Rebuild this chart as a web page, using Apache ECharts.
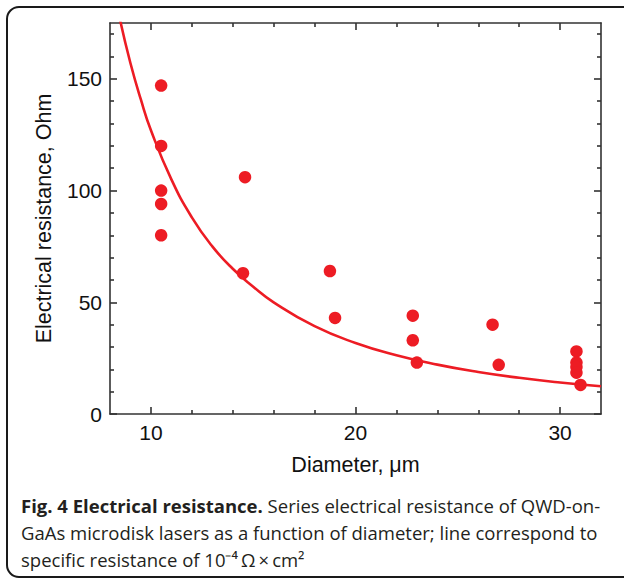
<!DOCTYPE html>
<html>
<head>
<meta charset="utf-8">
<script src="https://cdn.jsdelivr.net/npm/echarts@6/dist/echarts.min.js"></script>
<style>
html,body{margin:0;padding:0;background:#fff;}
#chart{width:624px;height:583px;}
</style>
</head>
<body>
<div id="chart"></div>
<script>
// ---- data ----
const diameters   = [10.5, 10.5, 10.5, 10.5, 10.5, 14.6, 14.5, 18.75, 19.0, 22.8, 22.8, 23.0, 26.7, 27.0, 30.8, 30.8, 30.8, 30.8, 31.0];
const resistances = [147, 120, 100, 94, 80, 106, 63, 64, 43, 44, 33, 23, 40, 22, 28, 23, 21, 18.5, 13];

// line: specific resistance of 1e-4 Ohm*cm^2
const lineDiameters   = [8.5, 9, 9.5, 10, 11, 12, 13, 14, 15, 16, 18, 20, 22, 24, 26, 28, 30, 32];
const lineResistances = [176, 157, 141, 127, 105, 88, 75, 65, 57, 50, 39.3, 31.8, 26.3, 22.1, 18.8, 16.2, 14.1, 12.4];

const xMajorTicks = [10, 20, 30];
const xMinorTicks = [12, 14, 16, 18, 22, 24, 26, 28];
const yMajorTicks = [0, 50, 100, 150];
const yMinorTicks = [10, 20, 30, 40, 60, 70, 80, 90, 110, 120, 130, 140, 160, 170];

const xTitle = 'Diameter, μm';
const yTitle = 'Electrical resistance, Ohm';
const captionBold = 'Fig. 4 Electrical resistance.';
const captionLines = [
  ' Series electrical resistance of QWD-on-',
  'GaAs microdisk lasers as a function of diameter; line correspond to',
  'specific resistance of 10\u207B\u2074\u2009\u03A9\u2009\u00D7\u2009cm\u00B2'
];

// ---- styling ----
const RED = '#ED1C24';
const AX = '#333333';
const TXT = '#111111';
const AXFONT = '"Liberation Sans", Arial, sans-serif';
const CAPFONT = '"Open Sans", sans-serif';

function fitFont(text, family, target) {
  const c = document.createElement('canvas').getContext('2d');
  c.font = '100px ' + family;
  return 100 * target / c.measureText(text).width;
}
const capSize = Math.round(fitFont(captionLines[1], CAPFONT, 575) * 10) / 10;

const XMIN = 8, XMAX = 32, YMIN = 0, YMAX = 175;

function xAxisDef(pos, ticks, len, main) {
  return {
    type: 'value', min: XMIN, max: XMAX, position: pos,
    axisLine: { show: main, onZero: false, lineStyle: { color: AX, width: 1.6 } },
    axisTick: { show: true, inside: true, length: len, customValues: ticks, lineStyle: { color: AX, width: 1.6 } },
    axisLabel: (main && pos === 'bottom') ? { show: true, customValues: xMajorTicks, margin: 8, fontSize: 21, color: TXT, fontFamily: AXFONT } : { show: false },
    splitLine: { show: false },
    name: (main && pos === 'bottom') ? xTitle : '',
    nameLocation: 'middle', nameGap: 40,
    nameTextStyle: { fontSize: 21.5, color: TXT, fontFamily: AXFONT }
  };
}
function yAxisDef(pos, ticks, len, main) {
  return {
    type: 'value', min: YMIN, max: YMAX, position: pos,
    axisLine: { show: main, onZero: false, lineStyle: { color: AX, width: 1.6 } },
    axisTick: { show: true, inside: true, length: len, customValues: ticks, lineStyle: { color: AX, width: 1.6 } },
    axisLabel: (main && pos === 'left') ? { show: true, customValues: yMajorTicks, margin: 8, fontSize: 21, color: TXT, fontFamily: AXFONT } : { show: false },
    splitLine: { show: false },
    name: (main && pos === 'left') ? yTitle : '',
    nameLocation: 'middle', nameGap: 55,
    nameTextStyle: { fontSize: 21.5, color: TXT, fontFamily: AXFONT }
  };
}

const chart = echarts.init(document.getElementById('chart'), null, { renderer: 'svg' });
chart.setOption({
  animation: false,
  backgroundColor: '#fff',
  grid: { left: 110, right: 23, top: 23, bottom: 169 },
  xAxis: [
    xAxisDef('bottom', xMajorTicks, 7, true),
    xAxisDef('bottom', xMinorTicks, 4, false),
    xAxisDef('top', xMajorTicks, 7, true),
    xAxisDef('top', xMinorTicks, 4, false)
  ],
  yAxis: [
    yAxisDef('left', yMajorTicks, 7, true),
    yAxisDef('left', yMinorTicks, 4, false),
    yAxisDef('right', yMajorTicks, 7, true),
    yAxisDef('right', yMinorTicks, 4, false)
  ],
  series: [
    {
      type: 'line', xAxisIndex: 0, yAxisIndex: 0, smooth: true, showSymbol: false,
      clip: true, lineStyle: { color: RED, width: 2.6 },
      data: lineDiameters.map((d, i) => [d, lineResistances[i]])
    },
    {
      type: 'scatter', xAxisIndex: 0, yAxisIndex: 0, symbolSize: 12.5,
      itemStyle: { color: RED, opacity: 1 },
      data: diameters.map((d, i) => [d, resistances[i]])
    }
  ],
  graphic: [
    {
      type: 'rect', silent: true,
      shape: { x: 7, y: 7, width: 630, height: 570, r: 12 },
      style: { fill: 'none', stroke: '#1a1a1a', lineWidth: 2 }
    },
    {
      type: 'text', left: 21, top: 492,
      style: {
        text: '{b|' + captionBold + '}' + captionLines[0] + '\n' + captionLines[1] + '\n' + captionLines[2],
        fontFamily: CAPFONT, fontSize: capSize, fill: '#231f20', lineHeight: 27,
        rich: { b: { fontFamily: CAPFONT, fontSize: capSize, fontWeight: 'bold', fill: '#231f20', lineHeight: 27 } }
      }
    }
  ]
});
</script>
</body>
</html>
